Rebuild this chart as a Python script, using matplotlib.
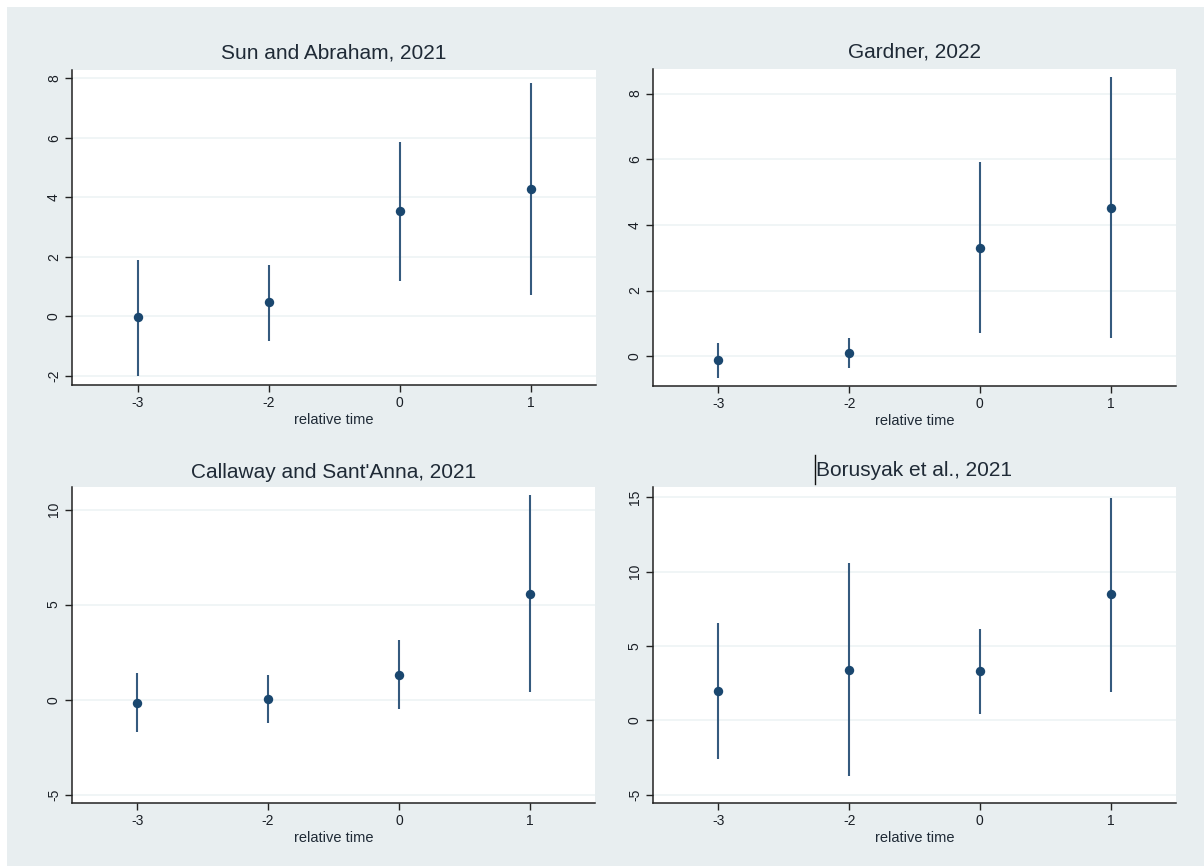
"""Event-study estimates from four staggered-DiD estimators, Stata-style 2x2 panel."""
import matplotlib.pyplot as plt
from matplotlib.lines import Line2D
from matplotlib.patches import Rectangle

BG = "#e8eef0"
NAVY = "#1a476f"
LINE = "#355a7e"
GRID = "#edf3f5"
TXT = "#1f2a36"

# relative-time categories (plotted at evenly spaced positions, Stata-style)
rel_time = ["-3", "-2", "0", "1"]

titles = ["Sun and Abraham, 2021", "Gardner, 2022",
          "Callaway and Sant'Anna, 2021", "Borusyak et al., 2021"]

sa_est = [-0.02, 0.48, 3.54, 4.27]
sa_lo = [-2.00, -0.83, 1.19, 0.73]
sa_hi = [1.90, 1.72, 5.86, 7.84]

gd_est = [-0.13, 0.11, 3.31, 4.52]
gd_lo = [-0.66, -0.35, 0.71, 0.54]
gd_hi = [0.39, 0.54, 5.91, 8.50]

cs_est = [-0.16, 0.05, 1.28, 5.54]
cs_lo = [-1.70, -1.23, -0.51, 0.40]
cs_hi = [1.40, 1.32, 3.12, 10.75]

bo_est = [1.97, 3.41, 3.34, 8.48]
bo_lo = [-2.62, -3.77, 0.40, 1.91]
bo_hi = [6.55, 10.59, 6.17, 14.98]

yticks = [[-2, 0, 2, 4, 6, 8], [0, 2, 4, 6, 8], [-5, 0, 5, 10], [-5, 0, 5, 10, 15]]
ylims = [(-2.3, 8.27), (-0.91, 8.75), (-5.44, 11.19), (-5.57, 15.70)]

W, H = 1204, 866
plt.rcParams["font.family"] = ["Liberation Sans", "DejaVu Sans"]
plt.rcParams["axes.unicode_minus"] = False

fig = plt.figure(figsize=(W / 100, H / 100), dpi=100)
fig.patch.set_facecolor("white")
fig.patches.append(Rectangle((7 / W, 0), 1 - 7 / W, 1 - 7 / H, transform=fig.transFigure,
                             fc=BG, ec="none", zorder=-10))

# axes boxes in pixels: left, top, right, bottom
boxes = [(72, 70, 596, 385), (653, 69, 1176, 386),
         (72, 487, 595, 803), (653, 487, 1176, 803)]
title_off = [17, 17, 15, 16]
series = [(sa_est, sa_lo, sa_hi), (gd_est, gd_lo, gd_hi),
          (cs_est, cs_lo, cs_hi), (bo_est, bo_lo, bo_hi)]

for k, (l, t, r, b) in enumerate(boxes):
    ax = fig.add_axes([l / W, 1 - b / H, (r - l) / W, (b - t) / H])
    ax.set_facecolor("white")
    est, lo, hi = series[k]
    xs = range(1, len(rel_time) + 1)
    ax.vlines(xs, lo, hi, color=LINE, lw=1.5, zorder=3)
    ax.scatter(xs, est, s=46, color=NAVY, zorder=4, linewidths=0)

    ax.set_xlim(0.5, 4.5)
    ax.set_ylim(*ylims[k])
    ax.set_xticks(list(xs))
    ax.set_xticklabels(rel_time)
    ax.set_yticks(yticks[k])
    ax.yaxis.grid(True, color=GRID, lw=1.2)
    ax.set_axisbelow(True)

    for s in ["top", "right"]:
        ax.spines[s].set_visible(False)
    for s in ["left", "bottom"]:
        ax.spines[s].set_linewidth(1.1)
        ax.spines[s].set_color("#222222")
    ax.tick_params(length=5, width=1, color="#222222", labelsize=10,
                   labelcolor="#1a1f26", pad=3)
    plt.setp(ax.get_yticklabels(), rotation=90, va="center")
    ax.set_xlabel("relative time", fontsize=10.5, color=TXT, labelpad=2)

    ax.annotate(titles[k], xy=(0.5, 1), xycoords="axes fraction",
                xytext=(0, title_off[k]), textcoords="offset pixels",
                ha="center", va="center", fontsize=15, color=TXT)

# stray text cursor left in the original, just before the last title
fig.add_artist(Line2D([815 / W, 815 / W], [1 - 455 / H, 1 - 484 / H],
                      transform=fig.transFigure, color="#111111", lw=1.0))

fig.savefig("out.png", dpi=100, facecolor="white")
